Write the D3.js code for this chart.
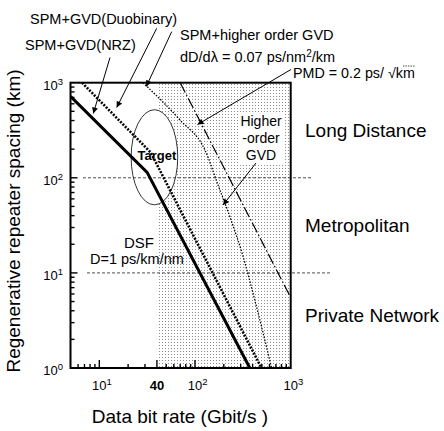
<!DOCTYPE html>
<html><head><meta charset="utf-8">
<script src="https://cdn.jsdelivr.net/npm/d3@7"></script>
<style>
body{margin:0;background:#fff}
svg{display:block}
text{font-family:"Liberation Sans",Arial,Helvetica,sans-serif;fill:#000}
</style>
</head><body>
<svg id="chart" width="444" height="431"></svg>
<script>
// Regenerator spacing limits (km) against data bit rate (Gbit/s)
const nrzRate = [5, 31.6, 374];
const nrzSpan = [720, 114, 1];
const duoRate = [6.6, 34.4, 495];
const duoSpan = [1000, 185, 1];
const hoRate = [28.6, 69.7, 127, 174, 238, 310, 430, 631];
const hoSpan = [1000, 405, 196, 84, 36, 16.2, 4.8, 1];
const pmdRate = [70, 1000];
const pmdSpan = [1000, 5.5];
const xMajor = [10, 100, 1000];
const yMajor = [1, 10, 100, 1000];
const markedRate = 40;
const targetRate = [21.5, 66];
const targetSpan = [52, 520];
const classBounds = [100, 10];
const classNames = ["Long Distance", "Metropolitan", "Private Network"];

const svg = d3.select("#chart");
const L = 70.5, R = 290.7, T = 82.7, B = 368;
const x = d3.scaleLog().domain([5, 1000]).range([L, R]);
const y = d3.scaleLog().domain([1, 1000]).range([B, T]);

const defs = svg.append("defs");
const pat = defs.append("pattern").attr("id", "stipple")
  .attr("width", 3).attr("height", 3).attr("patternUnits", "userSpaceOnUse");
pat.append("rect").attr("width", 3).attr("height", 3).attr("fill", "#fff");
pat.append("rect").attr("width", 1).attr("height", 1).attr("fill", "#8c8c8c");
defs.append("clipPath").attr("id", "plot")
  .append("rect").attr("x", L).attr("y", T).attr("width", R - L).attr("height", B - T);
defs.append("marker").attr("id", "head").attr("viewBox", "0 0 10 10")
  .attr("refX", 10).attr("refY", 5).attr("markerWidth", 9).attr("markerHeight", 6)
  .attr("markerUnits", "userSpaceOnUse").attr("orient", "auto")
  .append("path").attr("d", "M0,0L10,5L0,10Z").attr("fill", "#000");

// stippled region above 40 Gbit/s
svg.append("rect").attr("x", x(markedRate)).attr("y", T)
  .attr("width", R - x(markedRate)).attr("height", B - T).attr("fill", "url(#stipple)");

// target ellipse
const ex0 = x(targetRate[0]), ex1 = x(targetRate[1]);
const ey0 = y(targetSpan[1]), ey1 = y(targetSpan[0]);
svg.append("ellipse").attr("cx", (ex0 + ex1) / 2).attr("cy", (ey0 + ey1) / 2)
  .attr("rx", (ex1 - ex0) / 2).attr("ry", (ey1 - ey0) / 2)
  .attr("fill", "#fff").attr("stroke", "#000").attr("stroke-width", 0.8);

// white panel behind the "Higher-order GVD" note
svg.append("rect").attr("x", 240).attr("y", 112).attr("width", 45).attr("height", 51).attr("fill", "#fff");

// class boundaries
svg.selectAll("line.bound").data(classBounds).join("line").attr("class", "bound")
  .attr("x1", (d, i) => i ? 87 : 83).attr("x2", (d, i) => i ? 330 : 313)
  .attr("y1", d => y(d)).attr("y2", d => y(d))
  .attr("stroke", "#222").attr("stroke-width", 0.8).attr("stroke-dasharray", "3,2");

const line = d3.line().x(d => x(d[0])).y(d => y(d[1]));
const curve = d3.line().x(d => x(d[0])).y(d => y(d[1])).curve(d3.curveMonotoneX);
const lines = svg.append("g").attr("clip-path", "url(#plot)").attr("fill", "none").attr("stroke", "#000");
lines.append("path").attr("d", line(d3.zip(nrzRate, nrzSpan))).attr("stroke-width", 3);
lines.append("path").attr("d", line(d3.zip(duoRate, duoSpan))).attr("stroke-width", 2.6).attr("stroke-dasharray", "2,1.4");
lines.append("path").attr("d", curve(d3.zip(hoRate, hoSpan))).attr("stroke-width", 1.3).attr("stroke-dasharray", "1.5,1.5");
lines.append("path").attr("d", line(d3.zip(pmdRate, pmdSpan))).attr("stroke-width", 1.2).attr("stroke-dasharray", "11,2.5,1.5,2.5");

// axes: inward log ticks
const xt = x.ticks(), yt = y.ticks();
const isMajorX = v => xMajor.includes(v) || v === markedRate;
svg.append("g").selectAll("line").data(xt.filter(v => v > 5 && v < 1000)).join("line")
  .attr("x1", d => x(d)).attr("x2", d => x(d))
  .attr("y1", B).attr("y2", d => B - (isMajorX(d) ? 8 : 4))
  .attr("stroke", "#000").attr("stroke-width", 1.4);
svg.append("g").selectAll("line").data(yt.filter(v => v > 1 && v < 1000)).join("line")
  .attr("y1", d => y(d)).attr("y2", d => y(d))
  .attr("x1", L).attr("x2", d => L + (yMajor.includes(d) ? 7 : 4))
  .attr("stroke", "#000").attr("stroke-width", 1.4);
svg.append("rect").attr("x", L).attr("y", T).attr("width", R - L).attr("height", B - T)
  .attr("fill", "none").attr("stroke", "#000").attr("stroke-width", 2);

// tick labels
function pow10(g, v, xx, yy, anchor) {
  const t = g.append("text").attr("x", xx).attr("y", yy).attr("font-size", 13).attr("text-anchor", anchor);
  t.append("tspan").text("10");
  t.append("tspan").attr("dy", -5).attr("font-size", 9.5).text(Math.round(Math.log10(v)));
  return t;
}
const tl = svg.append("g");
xMajor.forEach(v => pow10(tl, v, x(v) - 7.2, 390, "start"));
tl.append("text").attr("x", x(markedRate)).attr("y", 390).attr("text-anchor", "middle")
  .attr("font-size", 13).attr("font-weight", "bold").text(markedRate);
yMajor.forEach(v => pow10(tl, v, 63, y(v) + 7, "end"));

// axis titles
svg.append("text").attr("x", 180).attr("y", 423).attr("text-anchor", "middle")
  .attr("font-size", 19).text("Data bit rate (Gbit/s )");
svg.append("text").attr("transform", "translate(20,221) rotate(-90)").attr("text-anchor", "middle")
  .attr("font-size", 19).text("Regenerative repeater spacing (km)");

// application classes
[[classNames[0], 137], [classNames[1], 232], [classNames[2], 322]].forEach(([s, yy]) =>
  svg.append("text").attr("x", 305).attr("y", yy).attr("font-size", 19).text(s));

// annotations
const ann = svg.append("g");
ann.append("text").attr("x", 30).attr("y", 24).attr("font-size", 14.5).text("SPM+GVD(Duobinary)");
ann.append("text").attr("x", 25).attr("y", 50).attr("font-size", 14.5).text("SPM+GVD(NRZ)");
ann.append("text").attr("x", 180).attr("y", 40).attr("font-size", 14.5).text("SPM+higher order GVD");
const dd = ann.append("text").attr("x", 180).attr("y", 62).attr("font-size", 14.5);
dd.append("tspan").text("dD/dλ = 0.07 ps/nm");
dd.append("tspan").attr("dy", -5).attr("font-size", 10).text("2");
dd.append("tspan").attr("dy", 5).text("/km");
const pmd = ann.append("text").attr("x", 293).attr("y", 78).attr("font-size", 14.3);
pmd.append("tspan").text("PMD = 0.2 ps/ √");
pmd.append("tspan").text("km");
const kmStart = 293 + pmd.node().getSubStringLength(0, 16);
const kmLen = pmd.node().getSubStringLength(16, 2);
ann.append("line").attr("x1", kmStart).attr("x2", kmStart + kmLen).attr("y1", 66).attr("y2", 66)
  .attr("stroke", "#000").attr("stroke-width", 0.7).attr("stroke-dasharray", "1.5,1");

ann.append("text").attr("x", 157).attr("y", 160).attr("text-anchor", "middle")
  .attr("font-size", 13).attr("font-weight", "bold").text("Target");
["Higher", "-order", "GVD"].forEach((s, i) =>
  ann.append("text").attr("x", 261).attr("y", 126 + i * 17).attr("text-anchor", "middle")
    .attr("font-size", 14).text(s));
ann.append("text").attr("x", 139).attr("y", 248).attr("text-anchor", "middle").attr("font-size", 15).text("DSF");
ann.append("text").attr("x", 90).attr("y", 264).attr("font-size", 14.5).text("D=1 ps/km/nm");

const arrows = [
  [156.7, 28.3, 116.7, 107.5],
  [110, 57.5, 93.3, 113.5],
  [171.7, 31.7, 146.3, 86.5],
  [291, 69.5, 197.5, 124.5],
  [256, 163, 223, 205]
];
ann.selectAll("line.arrow").data(arrows).join("line").attr("class", "arrow")
  .attr("x1", d => d[0]).attr("y1", d => d[1]).attr("x2", d => d[2]).attr("y2", d => d[3])
  .attr("stroke", "#000").attr("stroke-width", 1).attr("marker-end", "url(#head)");
</script>
</body></html>
